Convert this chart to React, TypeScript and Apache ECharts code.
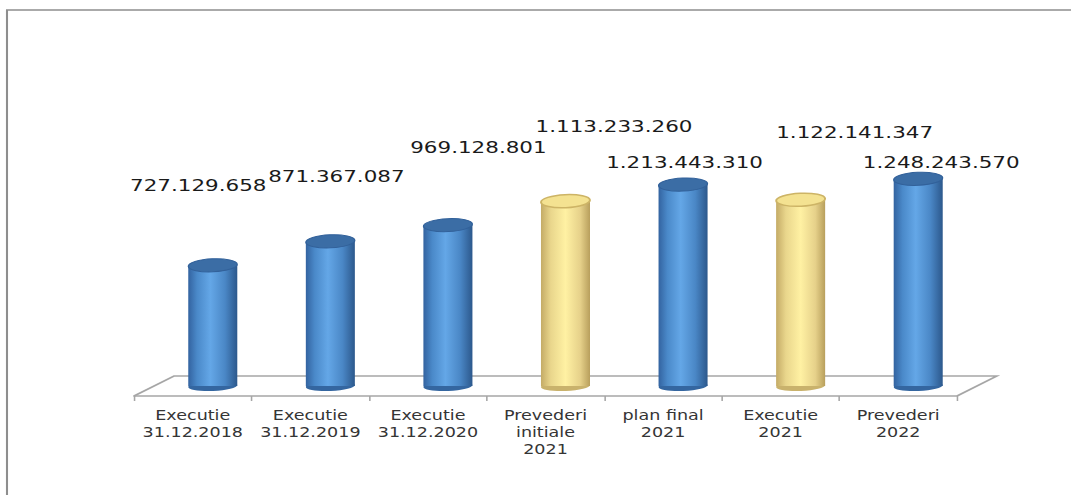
import React, { useEffect, useRef } from "react";
import * as echarts from "echarts";

// ---- data ----
const categories = [
  "Executie\n31.12.2018",
  "Executie\n31.12.2019",
  "Executie\n31.12.2020",
  "Prevederi\ninitiale\n2021",
  "plan final\n2021",
  "Executie\n2021",
  "Prevederi\n2022",
];
const values = [727129658, 871367087, 969128801, 1113233260, 1213443310, 1122141347, 1248243570];
// categories drawn in the pale yellow tone (2021 initial vs execution)
const highlightedIdx = [3, 5];
// manual label placement relative to the top of each cylinder (reference px)
const labelShift = [
  [-14.5, -80],
  [6, -65],
  [30.5, -77.5],
  [48.5, -75],
  [1.5, -22],
  [54, -67],
  [23, -16],
];

const S = 1.3; // horizontal stretch of the reference picture

const fmt = (v: number) => String(v).replace(/\B(?=(\d{3})+(?!\d))/g, ".");

const blueGrad = {
  type: "linear", x: 0, y: 0, x2: 1, y2: 0,
  colorStops: [
    { offset: 0, color: "#3363a0" },
    { offset: 0.18, color: "#4a89c9" },
    { offset: 0.45, color: "#64a7e7" },
    { offset: 0.75, color: "#4a87c6" },
    { offset: 1, color: "#2c588c" },
  ],
};
const yellowGrad = {
  type: "linear", x: 0, y: 0, x2: 1, y2: 0,
  colorStops: [
    { offset: 0, color: "#c4ab66" },
    { offset: 0.2, color: "#e9d68c" },
    { offset: 0.5, color: "#fff1a3" },
    { offset: 0.8, color: "#e6d18a" },
    { offset: 1, color: "#b89f5c" },
  ],
};

export default function App() {
  const ref = useRef<HTMLDivElement>(null);
  useEffect(() => {
    document.body.style.margin = "0";
    document.body.style.overflow = "hidden";
    const chart = echarts.init(ref.current!, undefined, { renderer: "svg" });
    const option: any = {
      animation: false,
      backgroundColor: "#ffffff",
      grid: { left: 134 / S, right: 824 - 957 / S, top: 147, bottom: 99 },
      graphic: [
        {
          type: "rect",
          shape: { x: 7 / S, y: 10, width: 2000, height: 1000 },
          style: { fill: "none", stroke: "#8e8e8e", lineWidth: 1.6 },
          silent: true,
        },
      ],
      xAxis: {
        type: "category",
        data: categories,
        boundaryGap: true,
        axisLine: { show: true, lineStyle: { color: "#a6a6a6", width: 1.5 } },
        axisTick: { show: true, length: 5, lineStyle: { color: "#a6a6a6", width: 1.2 } },
        axisLabel: {
          interval: 0,
          margin: 11,
          color: "#353535",
          fontSize: 13.5,
          fontFamily: "DejaVu Sans",
          lineHeight: 17,
        },
        splitLine: { show: false },
      },
      yAxis: {
        type: "value",
        min: 0,
        max: 1500000000,
        show: false,
      },
      series: [
        {
          type: "custom",
          clip: false,
          data: values.map((v, i) => [i, v]),
          encode: { x: 0, y: 1 },
          renderItem: (params: any, api: any) => {
            const i = params.dataIndex;
            const v = api.value(1);
            const base = api.coord([i, 0]);
            const top = api.coord([i, v]);
            const band = api.size([1, 0])[0];
            const w = band * 0.417;
            const ddx = band * 0.34;
            const ddy = 20;
            const cx = base[0] + ddx / 2;
            const by = base[1] - ddy / 2;
            const ty = top[1] - ddy / 2;
            const yellow = highlightedIdx.indexOf(i) >= 0;
            const grad = yellow ? yellowGrad : blueGrad;
            const children: any[] = [];
            if (i === 0) {
              const cs = params.coordSys;
              const x0 = cs.x;
              const x1 = cs.x + cs.width;
              const y = cs.y + cs.height;
              children.push({
                type: "polyline",
                shape: {
                  points: [
                    [x0, y],
                    [x0 + ddx, y - ddy],
                    [x1 + ddx, y - ddy],
                    [x1, y],
                  ],
                },
                style: { fill: "none", stroke: "#a6a6a6", lineWidth: 1.5 },
              });
            }
            children.push({
              type: "ellipse",
              x: cx,
              y: by,
              rotation: 0.05,
              shape: { cx: 0, cy: 0, rx: w / 2, ry: 5 },
              style: { fill: yellow ? "#c9b26c" : "#3466a0" },
            });
            children.push({
              type: "rect",
              shape: { x: cx - w / 2, y: ty, width: w, height: by - ty },
              style: { fill: grad },
            });
            children.push({
              type: "ellipse",
              x: cx,
              y: ty,
              rotation: 0.06,
              shape: { cx: 0, cy: 0, rx: w / 2, ry: 6.5 },
              style: yellow
                ? { fill: "#f4e291", stroke: "#cdb466", lineWidth: 1.5 }
                : { fill: "#3b6da5", stroke: "#32619a", lineWidth: 1 },
            });
            const sh = labelShift[i];
            children.push({
              type: "text",
              x: cx + sh[0] / S,
              y: ty + sh[1],
              style: {
                text: fmt(values[i]),
                fill: "#1a1a1a",
                fontSize: 16.5,
                fontFamily: "DejaVu Sans",
                align: "center",
                verticalAlign: "middle",
              },
            });
            return { type: "group", children };
          },
        },
      ],
    };
    chart.setOption(option);
    return () => chart.dispose();
  }, []);
  return (
    <div style={{ width: 1071, height: 495, overflow: "hidden", background: "#fff" }}>
      <div
        ref={ref}
        style={{ width: 824, height: 495, transform: `scaleX(${S})`, transformOrigin: "0 0" }}
      />
    </div>
  );
}
